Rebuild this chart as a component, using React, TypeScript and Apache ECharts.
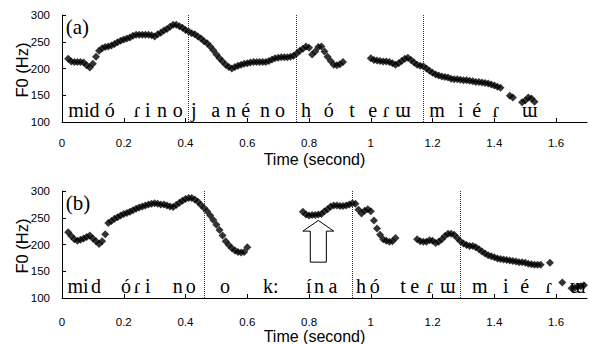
import React, { useEffect, useRef } from "react";
import * as echarts from "echarts";

const FRAME = 0.01;

// Panel (a) F0 track segments (start time, values per 10 ms frame)
const a1Start = 0.02;
const a1 = [218, 213, 212, 212, 212, 211, 206, 202, 209, 222, 233, 238, 240, 241, 243, 246, 249, 252, 254, 256,
  258, 261, 263, 263, 263, 263, 263, 262, 260, 264, 267, 271, 274, 278, 282, 282, 279, 276, 272, 269,
  266, 264, 260, 256, 251, 247, 241, 234, 226, 219, 213, 207, 203, 200, 203, 205, 207, 209, 210, 211,
  212, 212, 212, 212, 212, 214, 217, 219, 220, 221, 221, 221, 222, 224, 228, 233, 237, 241, 239, 226,
  232, 240, 241, 232, 222, 214, 207, 206, 208, 212];
const a2Start = 1.0;
const a2 = [219, 216, 215, 214, 213, 213, 212, 210, 207, 210, 214, 218, 220, 216, 211, 207, 205, 204, 200, 196,
  192, 189, 187, 185, 184, 183, 181, 180, 180, 179, 178, 178, 177, 176, 175, 175, 174, 173, 172, 170,
  168, 166, 164];
const a3Start = 1.45;
const a3 = [149, 146];
const a4Start = 1.49;
const a4 = [137, 140, 146, 144, 138];

// Panel (b)
const b1Start = 0.02;
const b1 = [223, 216, 210, 207, 209, 211, 214, 217, 211, 206, 201, 206, 219, 240, 244, 248, 251, 254, 257, 259,
  261, 264, 267, 269, 271, 273, 275, 276, 277, 276, 275, 275, 273, 271, 270, 274, 278, 282, 285, 287,
  287, 284, 280, 274, 268, 262, 254, 246, 237, 227, 217, 206, 199, 193, 189, 186, 185, 186, 195];
const b2Start = 0.78;
const b2 = [261, 256, 254, 255, 255, 256, 257, 262, 266, 271, 273, 273, 272, 272, 273, 275, 277, 276, 265, 258,
  263, 266, 262, 245, 230, 218, 210, 207, 205, 206, 212];
const b3Start = 1.15;
const b3 = [210, 206, 205, 205, 208, 207, 203, 205, 210, 216, 220, 220, 218, 212, 206, 202, 199, 197, 197, 195,
  191, 187, 183, 180, 178, 176, 174, 173, 172, 171, 170, 169, 168, 167, 167, 166, 164, 163, 162, 162, 162];
const b4Start = 1.58;
const b4 = [166];
const b5Start = 1.62;
const b5 = [129];
const b6Start = 1.65;
const b6 = [118, 119, 121, 122, 124];

// Segment boundaries (dotted lines)
const dividersA = [0.408, 0.76, 1.168];
const dividersB = [0.46, 0.935, 1.295];

// Phonetic transcription
const phonesA = ["mid", "ó", "ɾ", "i", "n", "o", "j", "a", "n", "é", "n", "o", "h", "ó", "t", "e", "ɾ", "ɯ", "m", "i", "é", "ɾ", "ɯ"];
const phoneTimesA = [0.071, 0.155, 0.243, 0.278, 0.324, 0.375, 0.427, 0.498, 0.547, 0.595, 0.657, 0.706, 0.79, 0.864, 0.939, 1.006, 1.049, 1.104, 1.214, 1.291, 1.343, 1.405, 1.515];
const phonesB = ["mi", "d", "ó", "ɾ", "i", "n", "o", "o", "k:", "í", "n", "a", "h", "ó", "t", "e", "ɾ", "ɯ", "m", "i", "é", "ɾ", "ɯ"];
const phoneTimesB = [0.052, 0.11, 0.207, 0.243, 0.278, 0.375, 0.417, 0.528, 0.676, 0.799, 0.832, 0.877, 0.968, 1.013, 1.104, 1.142, 1.191, 1.249, 1.353, 1.437, 1.498, 1.576, 1.67];
const phoneF0 = 122;
const panelLabels = ["(a)", "(b)"];
const panelLabelPos = [0.012, 278];
const yName = "F0 (Hz)";

// Arrow annotation in panel (b)
const arrowTip = [0.83, 245];
const arrowHeadBaseF = 225;
const arrowTailF = 167;
const arrowHeadHalf = 0.05;
const arrowShaftHalf = 0.026;

const xTicks = [0, 0.2, 0.4, 0.6, 0.8, 1.0, 1.2, 1.4, 1.6];

const SERIF = '"Liberation Serif", "DejaVu Serif", serif';
const SANS = '"Liberation Sans", Arial, sans-serif';

function track(start: number, values: number[]) {
  return values.map((v, i) => [Math.round((start + i * FRAME) * 100) / 100, v]);
}

function scatter(idx: number, data: number[][], dividers?: number[]) {
  const s: any = {
    type: "scatter",
    xAxisIndex: idx,
    yAxisIndex: idx,
    data,
    symbol: "diamond",
    symbolSize: 8,
    itemStyle: { color: "#000" },
    silent: true,
    z: 4,
  };
  if (dividers) {
    s.markLine = {
      silent: true,
      symbol: ["none", "none"],
      label: { show: false },
      lineStyle: { type: "dotted", color: "#333", width: 1 },
      data: dividers.map((x) => ({ xAxis: x })),
    };
  }
  return s;
}

function textSeries(idx: number, times: number[], texts: string[], f0: number, align: string, size: number) {
  return {
    type: "custom",
    xAxisIndex: idx,
    yAxisIndex: idx,
    silent: true,
    z: 3,
    data: times.map((t) => [t, f0]),
    renderItem: (params: any, api: any) => {
      const p = api.coord([api.value(0), api.value(1)]);
      return {
        type: "text",
        x: p[0],
        y: p[1],
        style: {
          text: texts[params.dataIndex],
          font: `${size}px ${SERIF}`,
          fill: "#000",
          align,
          verticalAlign: "middle",
        },
      };
    },
  };
}

function xAxis(idx: number, labelMargin: number) {
  return {
    type: "value",
    gridIndex: idx,
    min: 0,
    max: 1.7,
    interval: 0.2,
    axisLine: { show: true, onZero: false, lineStyle: { color: "#000", width: 1 } },
    axisTick: { show: true, inside: true, length: 4, customValues: xTicks, lineStyle: { color: "#000" } },
    axisLabel: { customValues: xTicks, margin: labelMargin, fontSize: 11.5, color: "#000", fontFamily: SANS },
    splitLine: { show: false },
    name: "Time (second)",
    nameLocation: "middle",
    nameGap: 29,
    nameTextStyle: { fontSize: 16, color: "#000", fontFamily: SANS, padding: [0, 20, 0, 0] },
  };
}

function yAxis(idx: number) {
  return {
    type: "value",
    gridIndex: idx,
    min: 100,
    max: 300,
    interval: 50,
    axisLine: { show: true, lineStyle: { color: "#000", width: 1 } },
    axisTick: { show: true, inside: true, length: 4, lineStyle: { color: "#000" } },
    axisLabel: { margin: 12, fontSize: 11.5, color: "#000", fontFamily: SANS },
    splitLine: { show: false },
  };
}

function yNameText(cy: number) {
  return {
    type: "text",
    x: 22,
    y: cy,
    rotation: Math.PI / 2,
    silent: true,
    style: {
      text: yName,
      font: `16.5px ${SANS}`,
      fill: "#000",
      align: "center",
      verticalAlign: "middle",
    },
  };
}

export default function App() {
  const ref = useRef<HTMLDivElement>(null);
  useEffect(() => {
    document.body.style.margin = "0";
    const chart = echarts.init(ref.current!, undefined, { renderer: "svg" });
    const dataA = [track(a1Start, a1), track(a2Start, a2), track(a3Start, a3), track(a4Start, a4)].flat();
    const dataB = [track(b1Start, b1), track(b2Start, b2), track(b3Start, b3), track(b4Start, b4), track(b5Start, b5), track(b6Start, b6)].flat();
    const option: any = {
      animation: false,
      backgroundColor: "#fff",
      grid: [
        { left: 62, top: 15, width: 525, height: 107, containLabel: false, outerBoundsMode: "none" },
        { left: 62, top: 191, width: 525, height: 107, containLabel: false, outerBoundsMode: "none" },
      ],
      xAxis: [xAxis(0, 15), xAxis(1, 18)],
      yAxis: [yAxis(0), yAxis(1)],
      graphic: [yNameText(70), yNameText(246)],
      series: [
        {
          type: "custom",
          xAxisIndex: 1,
          yAxisIndex: 1,
          silent: true,
          z: 2,
          data: [arrowTip],
          renderItem: (_p: any, api: any) => {
            const t = api.value(0);
            const f = api.value(1);
            const pts = [
              [t, f],
              [t + arrowHeadHalf, arrowHeadBaseF],
              [t + arrowShaftHalf, arrowHeadBaseF],
              [t + arrowShaftHalf, arrowTailF],
              [t - arrowShaftHalf, arrowTailF],
              [t - arrowShaftHalf, arrowHeadBaseF],
              [t - arrowHeadHalf, arrowHeadBaseF],
            ].map((p) => api.coord(p));
            return { type: "polygon", shape: { points: pts }, style: { fill: "#fff", stroke: "#000", lineWidth: 1 } };
          },
        },
        scatter(0, dataA, dividersA),
        scatter(1, dataB, dividersB),
        textSeries(0, phoneTimesA, phonesA, phoneF0, "center", 20),
        textSeries(1, phoneTimesB, phonesB, phoneF0, "center", 20),
        textSeries(0, [panelLabelPos[0]], [panelLabels[0]], panelLabelPos[1], "left", 21),
        textSeries(1, [panelLabelPos[0]], [panelLabels[1]], panelLabelPos[1], "left", 21),
      ],
    };
    chart.setOption(option);
    return () => chart.dispose();
  }, []);
  return <div ref={ref} style={{ position: "absolute", left: 0, top: 0, width: 589, height: 344 }} />;
}
